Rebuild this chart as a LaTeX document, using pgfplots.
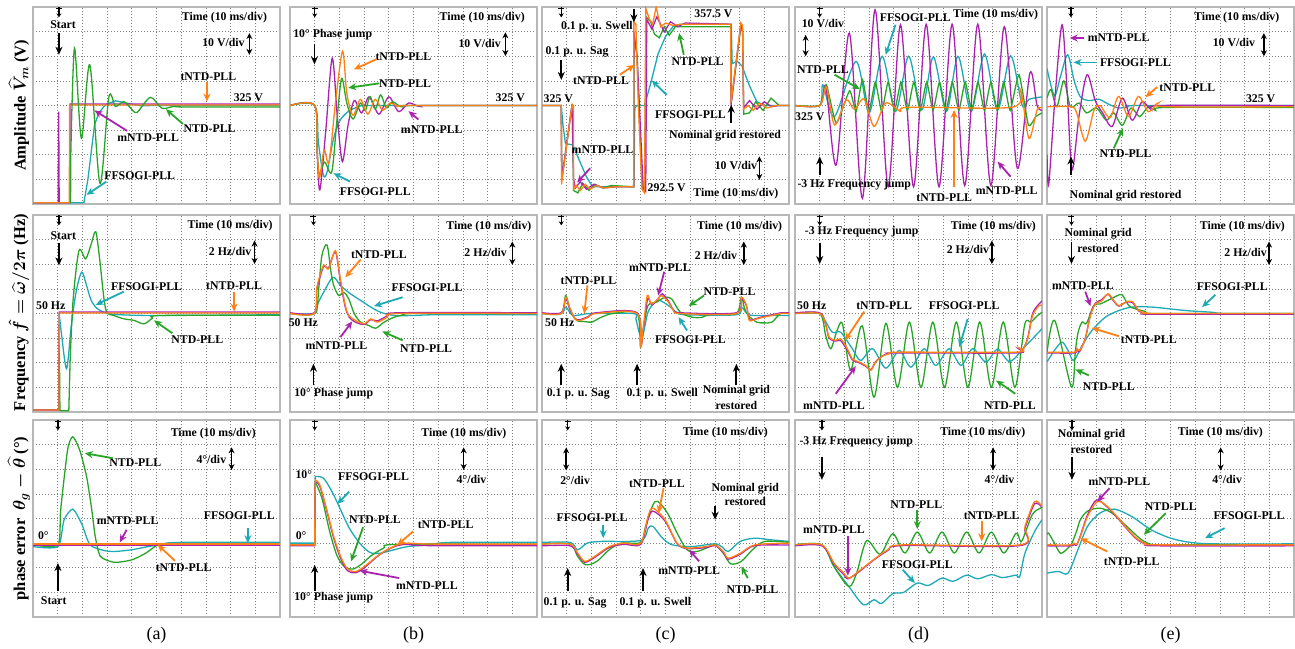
\documentclass[border=0pt]{standalone}
\usepackage{fontspec}
\setmainfont{Liberation Serif}
\usepackage{amsmath}
\usepackage{pgfplots}
\pgfplotsset{compat=1.18}
\usetikzlibrary{arrows.meta}
\definecolor{xG}{RGB}{40,165,40}
\definecolor{xO}{RGB}{255,128,20}
\definecolor{xM}{RGB}{170,35,175}
\definecolor{xC}{RGB}{30,170,180}
\newcommand{\lbfont}{\bfseries\fontsize{11.8}{12.5}\selectfont}
\newcommand{\rowfont}{\bfseries\boldmath\fontsize{16.5}{18}\selectfont}
\tikzset{
 lbl/.style={font=\lbfont, inner sep=0.5pt},
 arr/.style={line width=1.8pt, -{Stealth[length=8pt,width=7pt]}},
 evarr/.style={line width=1.9pt, -{Stealth[length=8pt,width=7pt]}},
 darr/.style={line width=1.5pt, {Stealth[length=6pt,width=6pt]}-{Stealth[length=6pt,width=6pt]}},
}
\newcommand{\lb}[3]{\node[lbl] at (axis cs:#1,#2) {#3};}
\newcommand{\lbr}[3]{\node[lbl,anchor=east] at (axis cs:#1,#2) {#3};}
\newcommand{\ar}[5]{\draw[draw=#1,arr] (axis cs:#2,#3) -- (axis cs:#4,#5);}
\newcommand{\ev}[4]{\draw[black,evarr] (axis cs:#1,#2) -- (axis cs:#3,#4);}
\newcommand{\dar}[3]{\draw[black,darr] (axis cs:#1,#2) -- (axis cs:#1,#3);}
\newcommand{\trig}[1]{\draw[black,line width=1.2pt,-{Stealth[length=4pt,width=5pt]}] (axis cs:#1,4) -- (axis cs:#1,3.58); \draw[black,line width=1pt] ([xshift=-3pt]axis cs:#1,3.93) -- ([xshift=3pt]axis cs:#1,3.93);}
\newcommand{\timelbl}[2]{\lbr{#1}{#2}{Time (10 ms/div)}}
\pgfplotsset{
 scope/.style={scale only axis, width=247pt, height=197pt,
  xmin=0, xmax=10, ymin=-4, ymax=4,
  xtick={0,1,...,10}, ytick={-4,-3,...,4},
  xticklabels={}, yticklabels={}, major tick length=0pt,
  grid=major, major grid style={dash pattern=on 0.8pt off 2.2pt, draw=black!50, line width=0.7pt},
  axis line style={draw=black!28, line width=1.8pt},
  clip mode=individual, anchor=south west},
 trG/.style={color=xG, line width=1.3pt},
 trO/.style={color=xO, line width=1.3pt},
 trM/.style={color=xM, line width=1.3pt},
 trC/.style={color=xC, line width=1.3pt},
 sm/.style={smooth, tension=0.5},
}
\begin{document}
\begin{tikzpicture}
\useasboundingbox (0pt,0pt) rectangle (1295pt,648pt);
% ================= ROW 1 : AMPLITUDE =================
% ---- A1
\begin{axis}[scope, at={(33pt,444pt)}]
\addplot[trC] coordinates {(0,-3.95)(2.06,-3.95)(2.22,-3.02)(2.36,-1.87)(2.49,-0.79)(2.66,-0.31)(2.93,0.03)(3.34,0.19)(3.81,0.09)(4.35,-0.01)(5,0)(10,0)};
\addplot[trM] coordinates {(0,-3.95)(1.02,-3.95)(1.04,-0.25)(1.06,-3.95)(1.49,-3.95)(1.5,0.06)(10,0.06)};
\addplot[trO] coordinates {(0,-3.95)(1.47,-3.95)(1.48,0.02)(10,0.02)};
\addplot[trG] coordinates {(1.50,-3.95)(1.52,-3.95)(1.53,-2.0)};
\addplot[trG,sm] coordinates {(1.53,-2.0)(1.68,2.33)(1.96,-1.33)(2.30,1.65)(2.71,-3.16)(3.07,0.34)(3.34,-0.04)(3.67,0.16)(3.95,-0.1)(4.21,-0.28)(4.75,0.33)(5.22,-0.11)(5.69,-0.04)(6.2,-0.06)(10,-0.06)};
\trig{1.05}
\lb{1.22}{3.28}{Start} \ev{1.05}{2.94}{1.05}{2.06}
\timelbl{9.5}{3.55}
\lb{7.71}{2.54}{10 V/div} \dar{8.76}{2.94}{2.06}
\lb{7.1}{1.15}{tNTD-PLL} \ar{xO}{7.04}{0.94}{7.04}{0.16}
\lb{8.72}{0.3}{325 V}
\lb{7.15}{-0.92}{NTD-PLL} \ar{xG}{6.07}{-0.75}{5.38}{-0.15}
\lb{4.66}{-1.29}{mNTD-PLL} \ar{xM}{3.81}{-1.03}{2.49}{-0.2}
\lb{4.32}{-2.85}{FFSOGI-PLL} \ar{xC}{2.97}{-3.09}{2.17}{-3.63}
\end{axis}
% ---- B1
\begin{axis}[scope, at={(290pt,444pt)}]
\addplot[trC,sm] coordinates {(0,0)(1.0,0)(1.15,-1.5)(1.35,-2.82)(1.5,-2.7)(1.75,-1.4)(2.0,-0.65)(2.35,-0.25)(2.8,-0.05)(3.5,0)(10,0)};
\addplot[trM,sm] coordinates {(0,0)(1.0,0)(1.1,-2.0)(1.21,-3.43)(1.45,-1.0)(1.71,1.92)(1.92,-0.5)(2.12,-2.28)(2.35,-0.8)(2.6,0.2)(2.9,-0.3)(3.2,0.35)(3.6,-0.35)(4.0,0.35)(4.4,-0.25)(4.8,0.1)(5.2,-0.03)(5.6,0)(10,0)};
\addplot[trG,sm] coordinates {(0,0)(1.0,0)(1.1,-1.8)(1.18,-2.8)(1.4,-2.3)(1.69,-2.7)(1.9,-0.6)(2.09,1.1)(2.3,0.1)(2.55,-0.55)(2.85,0.1)(3.05,-0.2)(3.24,0.36)(3.45,-0.15)(3.67,0.43)(3.9,-0.1)(4.15,0.15)(4.5,-0.05)(5,0)(10,0)};
\addplot[trO,sm] coordinates {(0,0)(1.0,0)(1.1,-1.8)(1.19,-2.95)(1.38,-1.8)(1.58,-2.3)(1.85,0.2)(2.13,2.2)(2.3,0.5)(2.55,-0.4)(2.85,0.25)(3.15,-0.35)(3.45,0.25)(3.75,-0.2)(4.05,0.1)(4.4,-0.05)(4.8,0)(10,0)};
\trig{1.0}
\lb{1.73}{2.86}{10° Phase jump} \ev{0.99}{2.49}{0.99}{1.67}
\timelbl{9.53}{3.58}
\lb{7.68}{2.53}{10 V/div} \dar{8.72}{2.97}{2.01}
\lb{4.59}{1.99}{tNTD-PLL} \ar{xO}{3.51}{1.88}{2.59}{1.47}
\lb{4.66}{0.9}{NTD-PLL} \ar{xG}{3.62}{0.9}{2.36}{0.72}
\lb{8.92}{0.31}{325 V}
\lb{5.74}{-1.0}{mNTD-PLL} \ar{xM}{5.2}{-0.57}{4.8}{-0.23}
\lb{3.45}{-3.5}{FFSOGI-PLL} \ar{xC}{2.43}{-3.09}{1.76}{-2.75}
\end{axis}
% ---- C1
\begin{axis}[scope, at={(542pt,444pt)}]
\addplot[trC] coordinates {(0,0)(0.78,0)(0.85,-0.8)(0.95,-1.55)(1.25,-1.6)(1.5,-2.2)(1.8,-2.9)(2.05,-3.3)(3.72,-3.3)(3.76,-0.1)(3.85,0)(4.15,0)(4.4,0.9)(4.7,2.1)(5.0,2.8)(5.3,3.2)(5.6,3.3)(7.66,3.3)(7.7,1.7)(7.9,1.8)(8.1,1.6)(8.4,0.8)(8.7,0.15)(9.0,0)(10,0)};
\addplot[trG] coordinates {(0,0)(0.78,0)(0.8,-3.0)(1.22,0.05)(1.28,-3.45)(1.45,-3.55)(1.65,-3.15)(1.9,-3.45)(2.15,-3.2)(2.45,-3.35)(2.8,-3.25)(3.71,-3.3)(3.73,2.8)(3.85,2.0)(4.05,-3.3)(4.15,-3.45)(4.22,3.6)(4.4,3.4)(4.55,2.9)(4.75,2.75)(4.95,3.2)(5.15,2.85)(5.4,3.2)(5.7,3.2)(7.64,3.2)(7.66,0.1)(8.05,3.2)(8.12,3.0)(8.17,-0.35)(8.4,-0.3)(8.65,0.15)(8.95,-0.2)(9.27,0.3)(9.6,0)(10,0)};
\addplot[trM] coordinates {(0,0)(0.78,0)(0.8,-3.0)(1.22,0.05)(1.28,-3.0)(1.35,-3.35)(1.55,-3.1)(1.8,-3.4)(2.1,-3.2)(2.5,-3.35)(3.0,-3.3)(3.71,-3.3)(3.72,3.0)(3.85,2.0)(4.1,-3.45)(4.2,-3.5)(4.24,3.5)(4.45,3.1)(4.65,3.6)(4.95,2.99)(5.2,3.4)(5.5,3.2)(5.8,3.35)(7.64,3.3)(7.65,0.0)(8.05,3.3)(8.12,3.1)(8.16,-0.1)(8.4,0.2)(8.7,-0.15)(9.0,0.15)(9.3,-0.05)(9.6,0)(10,0)};
\addplot[trO] coordinates {(0,0)(0.78,0)(0.79,-3.2)(1.0,-1.6)(1.22,0.05)(1.27,0)(1.28,-3.4)(1.4,-3.25)(1.55,-3.45)(1.75,-3.2)(1.95,-3.4)(2.2,-3.25)(2.5,-3.35)(3.0,-3.3)(3.71,-3.3)(3.72,3.4)(3.8,3.3)(3.9,0)(4.05,-3.4)(4.15,-3.55)(4.2,3.95)(4.35,3.5)(4.48,3.3)(4.62,4.0)(4.8,3.2)(5.0,3.35)(5.3,3.25)(5.6,3.3)(7.64,3.3)(7.65,0.1)(8.05,3.35)(8.12,3.25)(8.16,-0.15)(8.35,0.0)(8.55,-0.2)(8.8,0.1)(9.1,-0.1)(9.5,0.0)(10,0)};
\trig{0.78}
\lb{1.42}{2.16}{0.1 p. u. Sag} \ev{0.78}{1.86}{0.78}{1.04}
\lb{2.22}{3.21}{0.1 p. u. Swell} \ev{3.72}{3.92}{3.72}{3.38}
\lb{6.94}{3.73}{357.5 V}
\lb{0.66}{0.27}{325 V}
\lb{5.05}{-3.32}{292.5 V}
\lb{7.41}{-1.23}{Nominal grid restored} \ev{7.66}{-0.72}{7.66}{0.03}
\lb{7.85}{-2.44}{10 V/div} \dar{8.8}{-2.07}{-3.02}
\timelbl{9.6}{-3.57}
\lb{6.3}{1.79}{NTD-PLL} \ar{xG}{5.74}{2.06}{5.55}{2.94}
\lb{2.39}{1.0}{tNTD-PLL} \ar{xO}{3.15}{1.25}{3.75}{1.65}
\lb{6.01}{-0.38}{FFSOGI-PLL} \ar{xC}{5.05}{0.43}{4.44}{1.02}
\lb{2.45}{-1.78}{mNTD-PLL} \ar{xM}{1.95}{-2.55}{1.42}{-3.13}
\end{axis}
% ---- D1
\begin{axis}[scope, at={(795pt,444pt)}]
\addplot[trC,sm] coordinates {(0,0)(1.0,0)(1.13,0.84)(1.6,-0.45)(2.47,1.79)(3.0,-0.3)(3.53,2.0)(4.07,-0.24)(4.6,2.0)(5.13,-0.18)(5.6,1.97)(6.13,-0.24)(6.6,2.0)(7.13,-0.24)(7.67,2.09)(8.2,-0.18)(8.73,2.02)(9.2,0.0)(9.47,0.25)(10,0.35)};
\addplot[trM,sm] coordinates {(0,0)(1.0,0)(1.25,0.75)(1.67,-2.41)(2.2,2.94)(2.73,-3.77)(3.24,3.89)(3.77,-3.3)(4.27,3.28)(4.8,-3.3)(5.31,3.3)(5.83,-3.3)(6.36,3.3)(6.87,-3.25)(7.4,3.3)(7.93,-3.25)(8.47,3.2)(9.0,-2.55)(9.51,1.32)(9.8,0)(10,-0.2)};
\addplot[trG,smooth,tension=0.3] coordinates {(0,0)(1.0,0)(1.27,0.84)(1.67,-0.72)(2.21,0.6)(2.47,-0.25)(2.73,1.05)(2.99,-0.25)(3.25,0.95)(3.51,-0.25)(3.77,0.95)(4.03,-0.2)(4.29,0.95)(4.55,-0.2)(4.81,0.95)(5.07,-0.2)(5.33,0.95)(5.59,-0.2)(5.85,0.95)(6.11,-0.2)(6.37,0.95)(6.63,-0.2)(6.89,0.95)(7.15,-0.2)(7.41,0.95)(7.67,-0.2)(7.93,0.95)(8.19,-0.2)(8.45,0.95)(8.71,-0.2)(9.07,1.25)(9.45,-0.8)(9.75,-0.45)(10,-0.3)};
\addplot[trO,sm] coordinates {(0,0)(1.0,0)(1.27,0.75)(1.6,-0.79)(2.07,0.23)(2.4,-0.15)(2.8,0.26)(3.2,-0.85)(3.67,0.1)(4.27,-0.24)(4.6,-0.07)(8.8,-0.07)(9.13,0.64)(9.47,-1.33)(9.8,-0.18)(10,-0.1)};
\trig{1.0}
\lb{1.13}{3.32}{10 V/div} \dar{0.43}{2.87}{2.0}
\lb{4.87}{3.55}{FFSOGI-PLL} \ar{xC}{4.07}{3.28}{3.67}{2.06}
\timelbl{9.87}{3.69}
\lb{1.13}{1.45}{NTD-PLL} \ar{xG}{1.6}{1.25}{2.63}{0.66}
\lb{0.6}{-0.45}{325 V}
\lb{2.4}{-3.23}{-3 Hz Frequency jump} \ev{1.0}{-2.82}{1.0}{-2.07}
\lb{6.04}{-3.73}{tNTD-PLL} \ar{xO}{6.44}{-3.29}{6.44}{-0.18}
\lb{8.57}{-3.46}{mNTD-PLL} \ar{xM}{8.73}{-2.89}{8.2}{-2.28}
\end{axis}
% ---- E1
\begin{axis}[scope, at={(1047pt,444pt)}]
\addplot[trC,sm] coordinates {(0,1.5)(0.3,0.4)(0.55,1.2)(0.84,2.06)(1.1,1.0)(1.35,0.35)(1.7,0.2)(2.1,0.25)(2.5,0.05)(2.9,-0.1)(3.3,-0.05)(3.8,0)(10,0)};
\addplot[trG,sm] coordinates {(0,0.3)(0.16,0.65)(0.4,-0.05)(0.68,1.0)(0.95,-0.05)(1.3,0.1)(1.6,-0.3)(2.0,-0.1)(2.4,-0.6)(2.7,-0.3)(3.05,-0.8)(3.4,-0.1)(3.75,-0.45)(4.1,-0.05)(4.4,-0.2)(4.8,-0.08)(10,-0.08)};
\addplot[trM,sm] coordinates {(0,-2.0)(0.07,-3.2)(0.33,0.4)(0.61,3.28)(0.82,0.5)(1.01,-2.62)(1.3,-0.4)(1.62,1.25)(1.95,0.2)(2.25,-0.3)(2.64,-0.85)(3.05,0.3)(3.45,-0.6)(3.85,0.15)(4.2,-0.15)(4.6,0)(10,0)};
\addplot[trO,sm] coordinates {(0,-0.05)(0.97,-0.05)(1.2,-0.3)(1.55,-1.45)(1.9,-0.2)(2.15,0.0)(2.55,-0.5)(2.9,0.37)(3.3,-0.45)(3.7,0.37)(4.1,-0.25)(4.5,0.1)(4.8,-0.05)(10,-0.05)};
\trig{0.97}
\timelbl{9.43}{3.55}
\lb{7.57}{2.54}{10 V/div} \dar{8.78}{2.94}{2.0}
\lb{2.9}{2.74}{mNTD-PLL} \ar{xM}{1.49}{2.74}{0.92}{2.74}
\lb{3.58}{1.72}{FFSOGI-PLL} \ar{xC}{2.03}{1.75}{1.08}{1.75}
\lb{5.68}{0.71}{tNTD-PLL} \ar{xO}{4.46}{0.75}{3.99}{0.34}
\lb{8.65}{0.27}{325 V}
\lb{3.18}{-1.97}{NTD-PLL} \ar{xG}{2.7}{-1.74}{3.08}{-0.92}
\lb{3.18}{-3.67}{Nominal grid restored} \ev{0.97}{-2.82}{0.97}{-2.07}
\end{axis}
% ================= ROW 2 : FREQUENCY =================
% ---- A2
\begin{axis}[scope, at={(33pt,236pt)}]
\addplot[trC] coordinates {(0,-3.92)(1.05,-3.92)(1.06,0)};
\addplot[trC,sm] coordinates {(1.06,0)(1.15,-0.8)(1.36,-2.24)(1.55,-0.5)(1.75,0.9)(1.97,1.68)(2.15,1.2)(2.35,0.55)(2.6,0.2)(3.0,0.0)(3.5,-0.05)(5,-0.08)(10,-0.05)};
\addplot[trG] coordinates {(1.05,-3.92)(1.06,-3.92)(1.07,-1.6)(1.09,-3.95)(1.45,-3.95)(1.5,-2.0)};
\addplot[trG,sm] coordinates {(1.5,-2.0)(1.62,0.5)(1.86,2.55)(2.13,2.22)(2.35,2.8)(2.54,3.32)(2.7,2.2)(2.94,0.19)(3.28,-0.08)(3.7,-0.22)(4.09,-0.28)(4.49,-0.42)(4.83,-0.2)(5.2,-0.08)(10,-0.07)};
\addplot[trM] coordinates {(0,-3.92)(1.05,-3.92)(1.06,0.06)(10,0.06)};
\addplot[trO] coordinates {(0,-3.92)(1.05,-3.92)(1.06,0.02)(10,0.02)};
\trig{1.05}
\lb{1.23}{3.16}{Start} \ev{1.05}{2.86}{1.05}{1.95}
\timelbl{9.73}{3.57}
\lb{7.98}{2.51}{2 Hz/div} \dar{8.97}{2.96}{2.01}
\lb{4.6}{1.11}{FFSOGI-PLL} \ar{xC}{3.68}{0.89}{2.54}{0.35}
\lb{8.14}{1.14}{tNTD-PLL} \ar{xO}{8.14}{0.89}{8.14}{0.08}
\lb{0.72}{0.32}{50 Hz}
\lb{6.65}{-1.05}{NTD-PLL} \ar{xG}{5.64}{-0.8}{4.9}{-0.28}
\end{axis}
% ---- B2
\begin{axis}[scope, at={(290pt,236pt)}]
\addplot[trC,sm] coordinates {(0,0)(1.0,0)(1.09,0.32)(1.36,0.86)(1.74,1.47)(2.04,1.14)(2.45,0.8)(2.86,0.53)(3.27,0.26)(3.67,0.05)(4.22,-0.08)(5.03,-0.08)(6,-0.05)(10,-0.05)};
\addplot[trG,sm] coordinates {(0,0)(1.0,0)(1.16,1.0)(1.29,2.35)(1.5,2.78)(1.66,1.68)(1.77,1.14)(1.97,0.73)(2.18,0.86)(2.38,0.59)(2.6,0.0)(2.86,-0.35)(3.2,-0.49)(3.47,-0.6)(3.81,-0.35)(4.22,-0.15)(4.63,-0.05)(5,0)(10,0)};
\addplot[trM,sm] coordinates {(0,0.03)(0.98,0.03)(1.09,1.0)(1.36,1.9)(1.56,1.85)(1.84,2.5)(2.04,1.3)(2.24,0.25)(2.4,-0.15)(2.65,-0.35)(3.0,-0.45)(3.27,-0.25)(3.54,-0.3)(3.95,-0.1)(4.4,0.03)(10,0.03)};
\addplot[trO,sm] coordinates {(0,0)(0.98,0)(1.09,1.07)(1.36,1.95)(1.56,1.81)(1.84,2.55)(2.04,1.4)(2.24,0.32)(2.38,-0.08)(2.65,-0.28)(3.0,-0.42)(3.27,-0.22)(3.54,-0.35)(3.95,-0.15)(4.4,0)(10,0)};
\trig{0.95}
\timelbl{9.8}{3.54}
\lb{7.92}{2.49}{2 Hz/div} \dar{9.0}{2.92}{1.97}
\lb{3.6}{2.38}{tNTD-PLL} \ar{xO}{2.86}{2.19}{2.24}{1.47}
\lb{5.55}{1.03}{FFSOGI-PLL} \ar{xC}{4.56}{0.66}{3.4}{0.3}
\lb{0.54}{-0.38}{50 Hz}
\lb{1.88}{-1.32}{mNTD-PLL} \ar{xM}{2.04}{-0.96}{2.52}{-0.32}
\lb{5.51}{-1.43}{NTD-PLL} \ar{xG}{4.56}{-1.09}{3.74}{-0.73}
\lb{1.77}{-3.26}{10° Phase jump} \ev{0.95}{-2.92}{0.95}{-2.04}
\end{axis}
% ---- C2
\begin{axis}[scope, at={(542pt,236pt)}]
\addplot[trC,sm] coordinates {(0,0)(0.78,0)(0.96,0.26)(1.15,0.0)(1.27,-0.08)(1.6,-0.05)(2,0)(3.7,0)(3.8,-0.22)(3.95,-0.82)(4.08,-0.9)(4.29,0.05)(4.57,0.46)(4.77,0.53)(5.12,0.32)(5.45,0.05)(5.8,-0.05)(7.87,-0.05)(8.07,0.26)(8.3,0)(8.6,-0.08)(10,-0.08)};
\addplot[trG,sm] coordinates {(0,0)(0.78,0)(0.96,0.73)(1.15,0.1)(1.4,-0.28)(1.75,-0.33)(2.02,-0.35)(2.3,-0.2)(2.57,-0.08)(2.9,0)(3.85,0)(3.99,-1.36)(4.12,-0.5)(4.29,0.32)(4.63,0.46)(4.98,0.66)(5.25,0.59)(5.6,0.05)(6.08,-0.15)(6.5,-0.15)(6.9,0)(7.87,0)(8.07,0.66)(8.2,0.2)(8.35,-0.08)(8.69,-0.35)(9.0,-0.38)(9.31,-0.35)(9.66,0)(10,0)};
\addplot[trM,sm] coordinates {(0,0.03)(0.78,0.03)(0.96,0.6)(1.1,0.25)(1.33,-0.2)(1.54,-0.25)(1.88,-0.12)(2.2,0.03)(3.85,0.03)(4.0,-1.3)(4.12,-0.5)(4.28,0.6)(4.45,0.35)(4.72,0.62)(4.87,0.8)(5.12,0.5)(5.32,0.15)(5.6,0.03)(7.87,0.03)(8.07,0.6)(8.28,0.3)(8.4,-0.25)(8.69,-0.2)(8.97,-0.12)(9.31,-0.05)(9.7,0.03)(10,0.03)};
\addplot[trO,sm] coordinates {(0,0)(0.78,0)(0.96,0.66)(1.1,0.3)(1.33,-0.22)(1.54,-0.28)(1.88,-0.15)(2.2,0)(3.85,0)(3.99,-1.36)(4.1,-0.6)(4.26,0.73)(4.43,0.39)(4.7,0.59)(4.84,0.73)(5.12,0.46)(5.32,0.12)(5.6,0)(7.87,0)(8.07,0.66)(8.28,0.32)(8.39,-0.28)(8.69,-0.22)(8.97,-0.15)(9.31,-0.08)(9.7,0)(10,0)};
\trig{0.78}
\timelbl{9.75}{3.54}
\lb{7.04}{2.35}{2 Hz/div} \dar{8.17}{2.92}{1.97}
\lb{1.88}{1.34}{tNTD-PLL} \ar{xO}{1.84}{1.14}{1.71}{-0.01}
\lb{4.77}{1.88}{mNTD-PLL} \ar{xM}{4.95}{1.7}{4.7}{0.73}
\lb{7.59}{0.89}{NTD-PLL} \ar{xG}{6.56}{0.73}{5.94}{0.3}
\lb{0.72}{-0.38}{50 Hz}
\lb{6.01}{-1.05}{FFSOGI-PLL} \ar{xC}{5.87}{-0.69}{5.53}{-0.15}
\ev{0.78}{-2.92}{0.78}{-2.04} \ev{3.85}{-2.92}{3.85}{-2.04} \ev{7.87}{-2.92}{7.87}{-2.04}
\lb{1.47}{-3.26}{0.1 p. u. Sag} \lb{4.87}{-3.26}{0.1 p. u. Swell}
\lb{7.87}{-3.15}{Nominal grid} \lb{7.87}{-3.73}{restored}
\end{axis}
% ---- D2
\begin{axis}[scope, at={(795pt,236pt)}]
\addplot[trG,sm] coordinates {(0,0)(1.0,0)(1.24,-0.89)(1.45,-1.43)(1.7,-0.7)(1.92,-0.42)(2.25,-2.3)(2.72,-0.5)(3.2,-3.4)(3.68,-0.4)(4.15,-3.0)(4.63,-0.35)(5.1,-3.0)(5.58,-0.35)(6.05,-3.0)(6.53,-0.35)(7.0,-3.0)(7.48,-0.35)(7.95,-3.0)(8.43,-0.35)(8.9,-3.0)(9.3,-0.45)(9.55,-0.35)(9.8,-0.1)(10,0.05)};
\addplot[trC,sm] coordinates {(0,0)(1.0,0)(1.18,-0.22)(1.51,-0.76)(1.85,-0.76)(2.32,-1.43)(2.66,-1.91)(3.14,-1.43)(3.68,-2.22)(4.22,-1.5)(4.69,-2.18)(5.23,-1.43)(5.7,-2.11)(6.24,-1.43)(6.72,-2.11)(7.19,-1.43)(7.73,-1.97)(8.2,-1.45)(8.7,-1.95)(9.35,-1.3)(10,-0.62)};
\addplot[trM,sm] coordinates {(0,0.03)(1.0,0.03)(1.24,-0.45)(1.38,-1.0)(1.65,-1.12)(1.85,-1.1)(2.12,-1.5)(2.32,-1.88)(2.59,-2.0)(2.86,-2.14)(3.07,-2.28)(3.27,-1.95)(3.54,-1.72)(3.81,-1.62)(4.22,-1.6)(8.95,-1.6)(9.08,-1.45)(9.2,-1.5)(9.42,-1.0)(9.62,0.0)(9.89,0.4)(10,0.5)};
\addplot[trO,sm] coordinates {(0,0)(1.0,0)(1.24,-0.42)(1.38,-0.96)(1.65,-1.09)(1.85,-1.03)(2.12,-1.43)(2.32,-1.84)(2.59,-1.97)(2.86,-2.11)(3.07,-2.31)(3.27,-1.97)(3.54,-1.73)(3.81,-1.64)(4.22,-1.57)(8.95,-1.57)(9.08,-1.4)(9.2,-1.5)(9.42,-1.03)(9.62,-0.08)(9.89,0.32)(10,0.32)};
\trig{1.0}
\lb{2.7}{3.32}{-3 Hz Frequency jump} \ev{1.0}{2.86}{1.0}{2.01}
\timelbl{9.78}{3.54}
\lb{7.0}{2.59}{2 Hz/div} \dar{7.97}{2.96}{2.01}
\lb{0.68}{0.32}{50 Hz}
\lb{3.61}{0.32}{tNTD-PLL} \ar{xO}{2.8}{0.08}{2.03}{-1.09}
\lb{6.85}{0.32}{FFSOGI-PLL} \ar{xC}{6.99}{-0.22}{6.65}{-1.36}
\lb{1.58}{-3.73}{mNTD-PLL} \ar{xM}{1.65}{-3.26}{2.46}{-2.14}
\lb{8.7}{-3.73}{NTD-PLL} \ar{xG}{8.92}{-3.26}{8.14}{-2.72}
\end{axis}
% ---- E2
\begin{axis}[scope, at={(1047pt,236pt)}]
\addplot[trC,sm] coordinates {(0,-1.97)(0.3,-1.5)(0.61,-1.16)(0.85,-1.5)(1.08,-1.91)(1.42,-1.3)(1.82,-0.69)(2.36,-0.15)(2.91,0.12)(3.45,0.26)(4.26,0.26)(5.61,0.12)(6.69,0.05)(7.2,0)(10,0)};
\addplot[trG,sm] coordinates {(0,-1.6)(0.31,-0.28)(0.99,-2.99)(1.15,-1.5)(1.26,-0.76)(1.42,-0.35)(1.6,-0.4)(1.89,0.32)(2.16,0.39)(2.5,0.55)(2.8,0.7)(3.04,0.76)(3.31,0.32)(3.58,0.19)(3.99,0.08)(4.4,0)(10,0)};
\addplot[trM,sm] coordinates {(0,-1.6)(1.1,-1.6)(1.22,-1.45)(1.32,-1.55)(1.55,-1.0)(1.76,-0.05)(1.96,0.42)(2.2,0.55)(2.47,0.78)(2.7,0.5)(2.91,0.3)(3.18,0.45)(3.45,0.45)(3.72,0.1)(3.99,0.0)(4.3,-0.03)(10,-0.03)};
\addplot[trO,sm] coordinates {(0,-1.57)(1.1,-1.57)(1.22,-1.43)(1.32,-1.5)(1.55,-1.03)(1.76,-0.08)(1.96,0.39)(2.2,0.5)(2.47,0.8)(2.7,0.53)(2.91,0.32)(3.18,0.46)(3.45,0.49)(3.72,0.12)(3.99,0.03)(4.3,0)(10,0)};
\trig{0.99}
\lb{2.07}{3.23}{Nominal grid} \lb{2.07}{2.65}{restored} \ev{0.99}{2.89}{0.99}{2.01}
\timelbl{9.66}{3.54}
\lb{8.04}{2.49}{2 Hz/div} \dar{8.99}{2.92}{1.97}
\lb{1.45}{1.14}{mNTD-PLL} \ar{xM}{1.55}{0.89}{1.76}{0.3}
\lb{7.5}{1.07}{FFSOGI-PLL} \ar{xC}{6.82}{0.76}{6.28}{0.26}
\lb{4.12}{-1.05}{tNTD-PLL} \ar{xO}{2.91}{-0.92}{1.82}{-0.59}
\lb{2.5}{-2.99}{NTD-PLL} \ar{xG}{1.69}{-2.51}{1.15}{-2.27}
\end{axis}
% ================= ROW 3 : PHASE ERROR =================
% ---- A3
\begin{axis}[scope, at={(33pt,31pt)}]
\addplot[trC,smooth,tension=0.4] coordinates {(0,-1.14)(1.01,-1.14)(1.26,-0.05)(1.61,0.38)(1.96,-0.19)(2.31,-1.07)(2.88,-1.3)(3.3,-1.34)(4.0,-1.27)(4.56,-1.16)(5.05,-1.07)(5.4,-1.0)(6,-0.97)(10,-0.97)};
\addplot[trG,smooth,tension=0.4] coordinates {(0,-1.07)(1.01,-1.07)(1.12,0.35)(1.4,2.78)(1.61,3.32)(1.89,2.78)(2.17,1.7)(2.38,0.35)(2.52,-0.73)(2.73,-1.54)(3.3,-1.78)(4.0,-1.68)(4.56,-1.41)(5.05,-1.07)(5.5,-1.04)(10,-1.04)};
\addplot[trM] coordinates {(0,-1.11)(10,-1.11)};
\addplot[trO] coordinates {(0,-1.04)(10,-1.04)};
\trig{1.01}
\timelbl{9.05}{3.46}
\lb{7.22}{2.38}{4°/div} \dar{8.04}{2.89}{1.97}
\lb{4.14}{2.27}{NTD-PLL} \ar{xG}{3.23}{2.45}{2.1}{2.65}
\lb{3.83}{-0.09}{mNTD-PLL} \ar{xM}{3.79}{-0.46}{3.51}{-0.97}
\lb{8.35}{0.11}{FFSOGI-PLL} \ar{xC}{8.7}{-0.39}{8.7}{-1.0}
\lb{0.42}{-0.7}{0°}
\lb{6.1}{-2.0}{tNTD-PLL} \ar{xO}{5.75}{-1.72}{5.05}{-1.07}
\lb{0.84}{-3.32}{Start} \ev{1.01}{-2.96}{1.01}{-1.81}
\end{axis}
% ---- B3
\begin{axis}[scope, at={(290pt,31pt)}]
\addplot[trC] coordinates {(0,-1.0)(1.0,-1.0)(1.02,1.7)};
\addplot[trC,sm] coordinates {(1.02,1.7)(1.35,1.64)(1.7,1.09)(2.05,0.35)(2.4,-0.39)(2.82,-1.0)(3.24,-1.38)(3.65,-1.41)(4.21,-1.27)(4.77,-1.14)(5.61,-1.07)(6.5,-0.97)(10,-0.97)};
\addplot[trG] coordinates {(0,-1.07)(1.0,-1.07)(1.02,1.5)};
\addplot[trG,sm] coordinates {(1.02,1.5)(1.3,0.8)(1.6,-0.5)(1.9,-1.5)(2.2,-1.95)(2.55,-2.05)(2.9,-1.85)(3.3,-1.5)(3.8,-1.2)(4.35,-1.05)(10,-1.05)};
\addplot[trM] coordinates {(0,-1.11)(1.0,-1.11)(1.02,1.5)};
\addplot[trM,sm] coordinates {(1.02,1.5)(1.21,1.3)(1.49,0.3)(1.77,-0.8)(2.05,-1.62)(2.33,-2.12)(2.68,-2.2)(3.1,-1.92)(3.51,-1.56)(3.93,-1.28)(4.35,-1.1)(4.77,-1.05)(5.5,-1.1)(10,-1.11)};
\addplot[trO] coordinates {(0,-1.07)(1.0,-1.07)(1.02,1.57)};
\addplot[trO,sm] coordinates {(1.02,1.57)(1.21,1.36)(1.49,0.35)(1.77,-0.73)(2.05,-1.54)(2.33,-2.05)(2.68,-2.15)(3.1,-1.88)(3.51,-1.54)(3.93,-1.27)(4.35,-1.07)(4.77,-1.0)(5.33,-1.03)(6,-1.04)(10,-1.04)};
\trig{1.0}
\timelbl{8.79}{3.46}
\dar{7.03}{2.89}{1.97} \lb{7.35}{1.57}{4°/div}
\lb{0.56}{1.77}{10°}
\lb{3.38}{1.7}{FFSOGI-PLL} \ar{xC}{2.4}{1.09}{1.91}{0.59}
\lb{3.44}{-0.05}{NTD-PLL} \ar{xG}{2.96}{-0.35}{2.47}{-1.74}
\lb{6.3}{-0.26}{tNTD-PLL} \ar{xO}{4.98}{-0.53}{4.35}{-1.07}
\lb{0.45}{-0.7}{0°}
\lb{5.54}{-2.73}{mNTD-PLL} \ar{xM}{4.42}{-2.42}{2.82}{-2.12}
\lb{1.77}{-3.23}{10° Phase jump} \ev{1.0}{-2.96}{1.0}{-1.88}
\end{axis}
% ---- C3
\begin{axis}[scope, at={(542pt,31pt)}]
\addplot[trC,sm] coordinates {(0,-0.97)(1.14,-0.97)(1.44,-1.27)(1.83,-1.0)(2.42,-0.93)(4.0,-0.89)(4.3,-0.39)(4.49,-0.32)(4.88,-0.8)(5.28,-1.07)(6.06,-1.14)(7.01,-1.03)(7.34,-1.2)(7.54,-1.34)(8.03,-0.93)(8.62,-0.8)(9.21,-0.86)(10,-0.93)};
\addplot[trG,sm] coordinates {(0,-1.04)(1.14,-1.04)(1.44,-1.54)(1.77,-1.88)(2.22,-1.74)(2.72,-1.27)(3.21,-1.0)(4.0,-0.97)(4.19,-0.32)(4.49,0.55)(4.69,0.69)(5.08,0.22)(5.47,-0.59)(5.87,-1.27)(6.26,-1.34)(6.65,-1.2)(7.01,-1.07)(7.34,-1.41)(7.64,-1.84)(8.07,-1.74)(8.52,-1.27)(9.02,-0.93)(10,-0.97)};
\addplot[trM,sm] coordinates {(0,-1.11)(1.14,-1.11)(1.44,-1.45)(1.73,-1.78)(2.13,-1.58)(2.72,-1.18)(3.31,-1.05)(4.0,-1.05)(4.29,-0.05)(4.49,0.3)(4.98,-0.1)(5.47,-1.02)(5.87,-1.22)(6.65,-1.18)(7.01,-1.1)(7.34,-1.38)(7.54,-1.65)(8.03,-1.45)(8.62,-1.1)(10,-1.08)};
\addplot[trO,sm] coordinates {(0,-1.04)(1.14,-1.04)(1.44,-1.4)(1.73,-1.74)(2.13,-1.54)(2.72,-1.14)(3.31,-1.0)(4.0,-1.0)(4.29,0.08)(4.49,0.42)(4.98,-0.05)(5.47,-1.0)(5.87,-1.2)(6.65,-1.14)(7.01,-1.07)(7.34,-1.34)(7.54,-1.61)(8.03,-1.41)(8.62,-1.07)(10,-1.0)};
\trig{1.04}
\timelbl{9.17}{3.49}
\dar{0.98}{2.89}{1.95} \lb{1.34}{1.54}{2°/div}
\lb{4.65}{1.41}{tNTD-PLL} \ar{xO}{4.92}{1.23}{4.72}{0.22}
\lb{8.23}{1.22}{Nominal grid} \lb{8.23}{0.69}{restored} \ev{7.01}{0.49}{7.01}{-0.05}
\lb{2.03}{0.05}{FFSOGI-PLL} \ar{xC}{2.48}{-0.26}{2.48}{-0.8}
\lb{5.96}{-2.11}{mNTD-PLL} \ar{xM}{6.36}{-1.74}{5.96}{-1.27}
\lb{8.52}{-2.89}{NTD-PLL} \ar{xG}{8.33}{-2.42}{8.07}{-1.95}
\ev{1.04}{-2.96}{1.04}{-2.01} \ev{4.09}{-2.96}{4.09}{-2.01}
\lb{1.34}{-3.41}{0.1 p. u. Sag} \lb{4.59}{-3.41}{0.1 p. u. Swell}
\end{axis}
% ---- D3
\begin{axis}[scope, at={(795pt,31pt)}]
\addplot[trC,sm] coordinates {(0,-1.07)(1.09,-1.07)(1.58,-1.95)(2.18,-2.76)(2.77,-3.5)(3.2,-3.3)(3.5,-3.45)(3.96,-3.05)(4.4,-3.0)(4.95,-2.62)(5.4,-2.72)(5.95,-2.42)(6.4,-2.55)(6.95,-2.3)(7.4,-2.45)(7.95,-2.28)(8.4,-2.4)(8.95,-2.3)(9.1,-2.35)(9.31,-1.41)(9.7,-0.53)(10,-0.05)};
\addplot[trG,sm] coordinates {(0,-1.07)(1.09,-1.07)(1.58,-1.95)(2.18,-2.76)(2.5,-2.2)(2.9,-0.9)(3.45,-1.45)(3.96,-0.62)(4.45,-1.4)(4.95,-0.55)(5.45,-1.4)(5.95,-0.55)(6.45,-1.4)(6.95,-0.55)(7.45,-1.4)(7.95,-0.55)(8.45,-1.4)(8.95,-0.6)(9.15,-0.95)(9.35,-0.5)(9.6,0.15)(9.8,0.35)(10,0.45)};
\addplot[trM,sm] coordinates {(0,-1.11)(1.09,-1.11)(1.58,-1.85)(1.98,-2.28)(2.14,-2.45)(2.57,-2.18)(3.17,-1.7)(3.76,-1.3)(4.36,-1.1)(9.11,-1.1)(9.31,-0.4)(9.7,0.6)(10,0.45)};
\addplot[trO,sm] coordinates {(0,-1.07)(1.09,-1.07)(1.58,-1.81)(1.98,-2.22)(2.18,-2.42)(2.57,-2.15)(3.17,-1.68)(3.76,-1.27)(4.36,-1.07)(9.11,-1.07)(9.31,-0.32)(9.7,0.69)(10,0.49)};
\trig{1.09}
\lb{2.48}{3.12}{-3 Hz Frequency jump} \ev{1.09}{2.51}{1.09}{1.57}
\timelbl{9.35}{3.49}
\dar{8.02}{2.89}{1.95} \lb{8.28}{1.57}{4°/div}
\lb{4.91}{0.55}{NTD-PLL} \ar{xG}{4.95}{0.35}{4.95}{-0.43}
\lb{7.96}{0.11}{tNTD-PLL} \ar{xO}{7.56}{-0.12}{7.56}{-0.93}
\lb{1.58}{-0.46}{mNTD-PLL} \ar{xM}{2.14}{-0.73}{2.14}{-2.32}
\lb{4.95}{-1.88}{FFSOGI-PLL} \ar{xC}{4.36}{-2.08}{4.85}{-2.62}
\end{axis}
% ---- E3
\begin{axis}[scope, at={(1047pt,31pt)}]
\addplot[trC,sm] coordinates {(0,-2.22)(0.46,-2.15)(0.85,-2.22)(1.25,-1.27)(1.64,-0.32)(2.14,0.22)(2.73,0.38)(3.43,0.08)(4.22,-0.46)(5.01,-0.8)(5.8,-0.97)(6.79,-1.03)(10,-1.03)};
\addplot[trG,sm] coordinates {(0,-0.65)(0.06,-0.59)(0.3,-1.0)(0.55,-1.41)(0.85,-1.2)(1.01,-1.0)(1.2,-0.5)(1.35,-0.05)(1.64,0.3)(2.14,0.42)(2.63,0.22)(3.23,-0.32)(3.82,-0.86)(4.22,-1.05)(4.6,-1.07)(10,-1.07)};
\addplot[trM,sm] coordinates {(0,-1.11)(0.95,-1.11)(1.1,-1.05)(1.2,-1.08)(1.35,-0.7)(1.64,0.15)(2.0,0.75)(2.4,0.5)(2.83,0.05)(3.23,-0.42)(3.62,-0.83)(4.02,-1.05)(4.5,-1.11)(10,-1.11)};
\addplot[trO,sm] coordinates {(0,-1.07)(0.95,-1.07)(1.1,-1.0)(1.2,-1.05)(1.35,-0.73)(1.64,0.08)(2.04,0.69)(2.44,0.49)(2.83,0.08)(3.23,-0.39)(3.62,-0.8)(4.02,-1.03)(4.5,-1.07)(10,-1.07)};
\trig{1.01}
\lb{1.8}{3.39}{Nominal grid} \lb{1.8}{2.81}{restored} \ev{1.01}{2.51}{1.01}{1.57}
\timelbl{8.77}{3.49}
\dar{7.03}{2.89}{1.95} \lb{7.29}{1.57}{4°/div}
\lb{2.93}{1.5}{mNTD-PLL} \ar{xM}{2.53}{1.23}{2.04}{0.69}
\lb{5.01}{0.49}{NTD-PLL} \ar{xG}{4.81}{0.22}{3.92}{-0.66}
\lb{8.18}{0.11}{FFSOGI-PLL} \ar{xC}{7.19}{-0.39}{6.4}{-0.8}
\lb{3.43}{-1.74}{tNTD-PLL} \ar{xO}{2.44}{-1.34}{1.35}{-0.8}
\end{axis}
% ================= ROW LABELS & SUBCAPTIONS =================
\node[rotate=90,font=\rowfont] at (19pt,542.5pt) {Amplitude $\widehat{V}_m$ (V)};
\node[rotate=90,font=\rowfont] at (19pt,335.5pt) {Frequency $\hat{f}=\widehat{\omega}/2\pi$ (Hz)};
\node[rotate=90,font=\rowfont] at (19pt,129.5pt) {phase error\ \ $\theta_g-\widehat{\theta}$ (°)};
\node[font=\fontsize{18}{19}\selectfont] at (156.5pt,13pt) {(a)};
\node[font=\fontsize{18}{19}\selectfont] at (413.5pt,13pt) {(b)};
\node[font=\fontsize{18}{19}\selectfont] at (665.5pt,13pt) {(c)};
\node[font=\fontsize{18}{19}\selectfont] at (918.5pt,13pt) {(d)};
\node[font=\fontsize{18}{19}\selectfont] at (1170.5pt,13pt) {(e)};
\end{tikzpicture}
\end{document}
